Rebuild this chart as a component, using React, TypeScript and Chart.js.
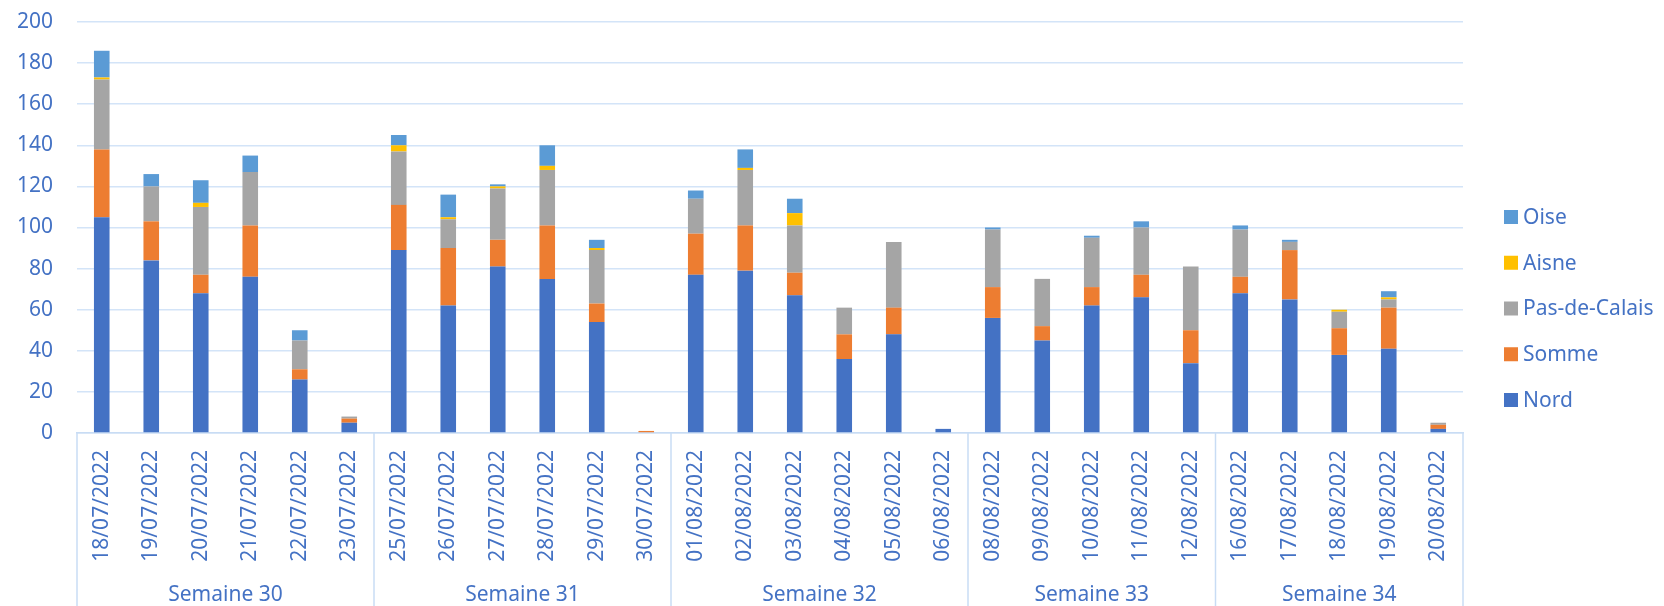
import React, { useEffect, useRef } from 'react';
import { Chart, registerables } from 'chart.js';

Chart.register(...registerables);

// ---- Data ----
const dates = [
  '18/07/2022', '19/07/2022', '20/07/2022', '21/07/2022', '22/07/2022', '23/07/2022',
  '25/07/2022', '26/07/2022', '27/07/2022', '28/07/2022', '29/07/2022', '30/07/2022',
  '01/08/2022', '02/08/2022', '03/08/2022', '04/08/2022', '05/08/2022', '06/08/2022',
  '08/08/2022', '09/08/2022', '10/08/2022', '11/08/2022', '12/08/2022',
  '16/08/2022', '17/08/2022', '18/08/2022', '19/08/2022', '20/08/2022',
];

const weekLabels = ['Semaine 30', 'Semaine 31', 'Semaine 32', 'Semaine 33', 'Semaine 34'];
const weekCounts = [6, 6, 6, 5, 5];

const nord = [105, 84, 68, 76, 26, 5, 89, 62, 81, 75, 54, 0, 77, 79, 67, 36, 48, 2, 56, 45, 62, 66, 34, 68, 65, 38, 41, 2];
const somme = [33, 19, 9, 25, 5, 2, 22, 28, 13, 26, 9, 1, 20, 22, 11, 12, 13, 0, 15, 7, 9, 11, 16, 8, 24, 13, 20, 2];
const pasDeCalais = [34, 17, 33, 26, 14, 1, 26, 14, 25, 27, 26, 0, 17, 27, 23, 13, 32, 0, 28, 23, 24, 23, 31, 23, 4, 8, 4, 1];
const aisne = [1, 0, 2, 0, 0, 0, 3, 1, 1, 2, 1, 0, 0, 1, 6, 0, 0, 0, 0, 0, 0, 0, 0, 0, 0, 1, 1, 0];
const oise = [13, 6, 11, 8, 5, 0, 5, 11, 1, 10, 4, 0, 4, 9, 7, 0, 0, 0, 1, 0, 1, 3, 0, 2, 1, 0, 3, 0];

const seriesNames = ['Nord', 'Somme', 'Pas-de-Calais', 'Aisne', 'Oise'];
const seriesColors = ['#4472C4', '#ED7D31', '#A5A5A5', '#FFC000', '#5B9BD5'];

const yMin = 0;
const yMax = 200;
const yStep = 20;

// ---- Styles ----
const TEXT = '#4472C4';
const FONT = '"Noto Sans", sans-serif';
const FONT_SIZE = 21;
const GRID = '#D3E4F8';
const AXIS = '#C8DCF4';

const weekGroupsPlugin = {
  id: 'weekGroups',
  afterDraw(chart: any) {
    const { ctx, chartArea, scales } = chart;
    const x = scales.x;
    const bottom = chart.height;
    const half = (x.getPixelForValue(1) - x.getPixelForValue(0)) / 2;
    ctx.save();
    ctx.strokeStyle = AXIS;
    ctx.lineWidth = 1.5;
    let idx = 0;
    const bounds: number[] = [x.getPixelForValue(0) - half];
    weekCounts.forEach((n) => {
      idx += n;
      bounds.push(x.getPixelForValue(idx - 1) + half);
    });
    bounds.forEach((b) => {
      ctx.beginPath();
      ctx.moveTo(b, chartArea.bottom);
      ctx.lineTo(b, bottom);
      ctx.stroke();
    });
    ctx.fillStyle = TEXT;
    ctx.font = `${FONT_SIZE}px ${FONT}`;
    ctx.textAlign = 'center';
    ctx.textBaseline = 'middle';
    weekLabels.forEach((lab, i) => {
      const cx = (bounds[i] + bounds[i + 1]) / 2;
      ctx.fillText(lab, cx, bottom - 11);
    });
    ctx.restore();
  },
};

const sideLegendPlugin = {
  id: 'sideLegend',
  afterDraw(chart: any) {
    const { ctx, chartArea } = chart;
    const ds = chart.data.datasets.slice().reverse();
    const bx = chartArea.right + 41;
    const top = 217;
    const step = 45.75;
    ctx.save();
    ctx.font = `${FONT_SIZE}px ${FONT}`;
    ctx.textAlign = 'left';
    ctx.textBaseline = 'middle';
    ds.forEach((d: any, i: number) => {
      const cy = top + i * step;
      ctx.fillStyle = d.backgroundColor;
      ctx.fillRect(bx, cy - 7, 14, 14);
      ctx.fillStyle = TEXT;
      ctx.fillText(d.label, bx + 19, cy + 1);
    });
    ctx.restore();
  },
};

export default function App() {
  const ref = useRef<HTMLCanvasElement>(null);

  useEffect(() => {
    if (!ref.current) return;
    const values = [nord, somme, pasDeCalais, aisne, oise];
    const chart = new Chart(ref.current, {
      type: 'bar',
      data: {
        labels: dates,
        datasets: seriesNames.map((name, i) => ({
          label: name,
          data: values[i],
          backgroundColor: seriesColors[i],
          borderWidth: 0,
          barPercentage: 0.315,
          categoryPercentage: 1,
        })),
      },
      options: {
        animation: false,
        responsive: false,
        devicePixelRatio: 1,
        layout: { padding: { left: 0, right: 201, top: 22, bottom: 0 } },
        plugins: {
          legend: { display: false },
          tooltip: { enabled: false },
        },
        scales: {
          x: {
            stacked: true,
            grid: { display: false, drawTicks: false },
            border: { display: true, color: AXIS, width: 1.5 },
            ticks: {
              autoSkip: false,
              minRotation: 90,
              maxRotation: 90,
              padding: 17,
              color: TEXT,
              font: { family: FONT, size: FONT_SIZE },
            },
            afterFit: (s: any) => {
              s.height = 173;
            },
          },
          y: {
            stacked: true,
            min: yMin,
            max: yMax,
            ticks: {
              stepSize: yStep,
              padding: 24,
              color: TEXT,
              font: { family: FONT, size: FONT_SIZE },
            },
            grid: { color: GRID, lineWidth: 1.5, drawTicks: false },
            border: { display: false },
            afterFit: (s: any) => {
              s.width = 77;
              s.paddingTop = 0;
              s.paddingBottom = 0;
            },
          },
        },
      },
      plugins: [weekGroupsPlugin, sideLegendPlugin],
    });
    return () => chart.destroy();
  }, []);

  return (
    <div style={{ position: 'absolute', left: 0, top: 0, width: 1664, height: 606, background: '#fff' }}>
      <canvas ref={ref} width={1664} height={606} style={{ width: 1664, height: 606 }} />
    </div>
  );
}
